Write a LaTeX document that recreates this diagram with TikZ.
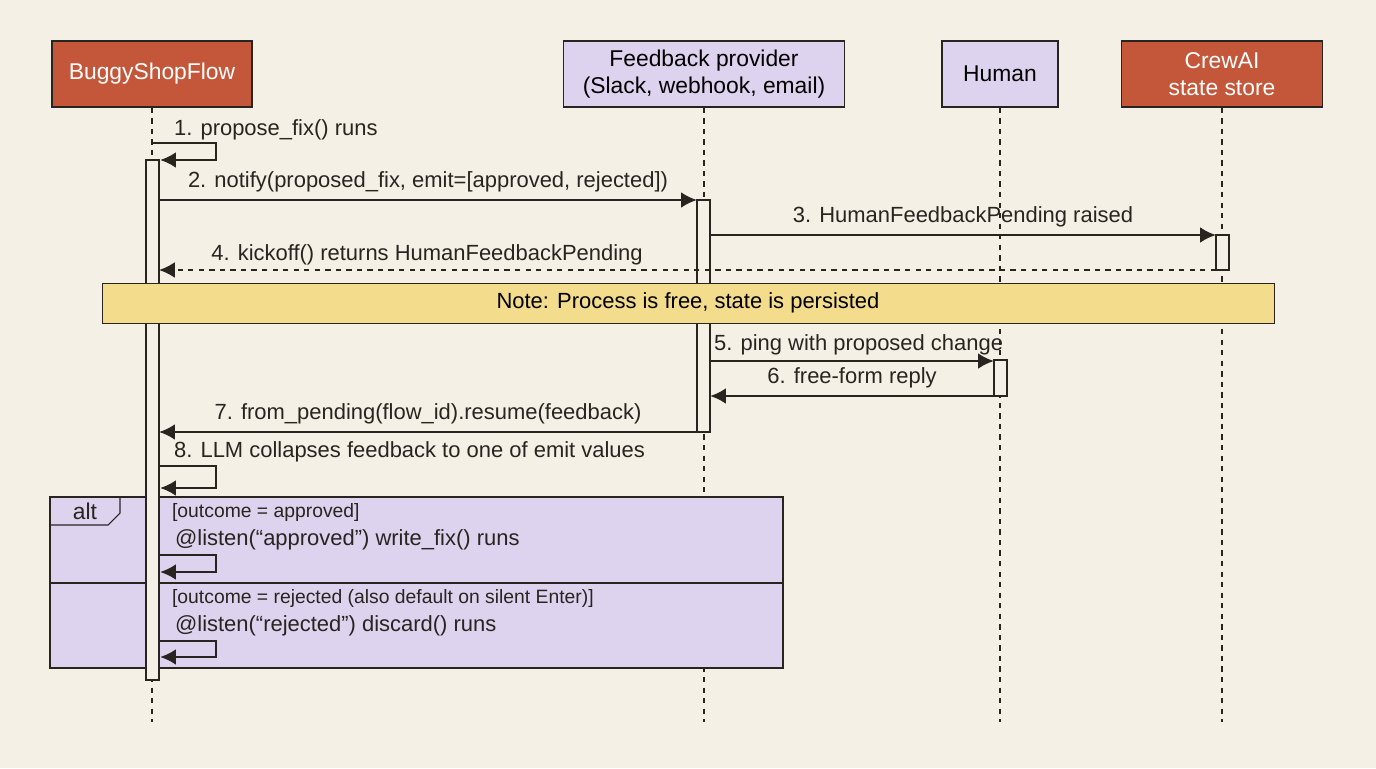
\documentclass[tikz,border=0pt]{standalone}
\usepackage{fontspec}
\setmainfont{Liberation Sans}
\usetikzlibrary{arrows.meta}
\definecolor{bgc}{HTML}{F4F0E6}
\definecolor{hdrorange}{HTML}{C4573A}
\definecolor{lav}{HTML}{DDD3EE}
\definecolor{notey}{HTML}{F3DC8C}
\definecolor{ink}{HTML}{2A2420}
\tikzset{%
	actor/.style={draw=ink,thick,minimum height=1.32cm,align=center,font=\fontsize{13}{15.5}\selectfont,inner sep=0pt}
}
\tikzset{%
	msg/.style={draw=ink,line width=1.6pt,-{Latex[length=9pt,width=9pt]}},
	ret/.style={msg,dashed,line width=1.1pt},
	lbl/.style={font=\fontsize{12.5}{15}\selectfont,text=ink,inner sep=1pt},
	grd/.style={lbl,anchor=west,font=\fontsize{11}{13}\selectfont},
	bar/.style={draw=ink,fill=bgc,semithick},
	life/.style={draw=ink,dashed,semithick}
}

\begin{document}
\begin{tikzpicture}[x=0.02cm,y=-0.02cm]
		\fill [bgc] (0,0) rectangle (1376,768);
		\useasboundingbox (0,0) rectangle (1376,768);

		%Actors
		\node [actor,fill=hdrorange,text=white,minimum width=4cm] (shop) at (152,74) {BuggyShopFlow};
		\node [actor,fill=lav,minimum width=5.62cm] (prov) at (704,74) {Feedback provider\\(Slack, webhook, email)};
		\node [actor,fill=lav,minimum width=2.32cm] (human) at (1000,74) {Human};
		\node [actor,fill=hdrorange,text=white,minimum width=4.02cm] (store) at (1222,74) {CrewAI\\state store};

		%Lifelines
		\draw [life] (shop.south) -- (152,722);
		\draw [life] (prov.south) -- (704,722);
		\draw [life] (human.south) -- (1000,722);
		\draw [life] (store.south) -- (1222,722);

		%Alt frame
		\draw [ink,semithick,fill=lav] (50,497) rectangle (783,668);
		\draw [ink,semithick] (50,583) -- (783,583);
		\draw [ink,semithick] (50,525) -- (108,525) -- (120,513) -- (120,497);
		\node [lbl,font=\fontsize{13}{15}\selectfont] (alt) at (85,511) {alt};

		%Activation bars
		\draw [bar] (146,160) rectangle (159,680);
		\draw [bar] (697,200) rectangle (710,432);
		\draw [bar] (1216,235) rectangle (1229,270);
		\draw [bar] (994,360) rectangle (1007,396);

		%Note
		\node [draw=ink,fill=notey,minimum width=23.44cm,minimum height=0.8cm,font=\fontsize{12.5}{15}\selectfont] (note) at (688,303) {Note: Process is free, state is persisted};

		%Anchors
		\coordinate (shopR) at (159,0);
		\coordinate (provL) at (697,0);
		\coordinate (provR) at (710,0);
		\coordinate (storeL) at (1216,0);
		\coordinate (humanL) at (994,0);

		%Self calls
		\draw [msg] (152,143) -- (216,143) -- (216,160) -- (160,160);
		\node [lbl,anchor=west] (m1) at (172,130) {1. propose\_fix() runs};
		\draw [msg] (160,466) -- (216,466) -- (216,488) -- (160,488);
		\node [lbl,anchor=west] (m8) at (172,452) {8. LLM collapses feedback to one of emit values};
		\draw [msg] (160,555) -- (216,555) -- (216,572) -- (160,572);
		\draw [msg] (160,641) -- (216,641) -- (216,657) -- (160,657);

		%Messages
		\draw [msg] (shopR |- 0,200) -- (provL |- 0,200) node [lbl,midway,above=3pt] (m2) {2. notify(proposed\_fix, emit=[approved, rejected])};
		\draw [msg] (provR |- 0,235) -- (storeL |- 0,235) node [lbl,midway,above=3pt] (m3) {3. HumanFeedbackPending raised};
		\draw [ret] (storeL |- 0,270) -- (shopR |- 0,270);
		\node [lbl] (m4) at (427,255) {4. kickoff() returns HumanFeedbackPending};
		\draw [msg] (provR |- 0,361) -- (humanL |- 0,361);
		\node [lbl,anchor=west] (m5) at (712,345) {5. ping with proposed change};
		\draw [msg] (humanL |- 0,396) -- (provR |- 0,396) node [lbl,midway,above=3pt] (m6) {6. free-form reply};
		\draw [msg] (provL |- 0,432) -- (shopR |- 0,432) node [lbl,midway,above=3pt] (m7) {7. from\_pending(flow\_id).resume(feedback)};

		%Guards
		\node [grd] (g1) at (170,512) {[outcome = approved]};
		\node [lbl,anchor=west] (a1) at (173,540) {@listen(“approved”) write\_fix() runs};
		\node [grd] (g2) at (170,598) {[outcome = rejected (also default on silent Enter)]};
		\node [lbl,anchor=west] (a2) at (173,626) {@listen(“rejected”) discard() runs};
	\end{tikzpicture}
\end{document}
